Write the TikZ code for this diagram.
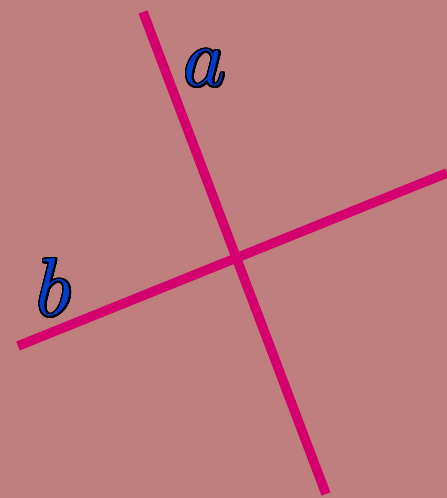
\documentclass[tikz,border=0pt]{standalone}
\usepackage{tikz}
\usepackage{contour}
\contourlength{0.5pt}
\contournumber{32}
\definecolor{bgpink}{RGB}{191,127,127}
\definecolor{linemag}{RGB}{212,0,110}
\definecolor{labblue}{RGB}{0,60,205}

\begin{document}
\begin{tikzpicture}[
  x=1pt,y=1pt,
  lineseg/.style={draw=linemag,line width=9.5pt},
  lab/.style={inner sep=0pt,font=\Huge,scale=3.3,transform shape}
]
\fill[bgpink] (0,0) rectangle (447,498);
\useasboundingbox (0,0) rectangle (447,498);
\coordinate (atop) at (143,486);
\coordinate (abot) at (326,4);
\coordinate (bleft) at (18,152);
\coordinate (bright) at (447,325);
\draw[lineseg] (atop) -- (abot);
\draw[lineseg] (bleft) -- (bright);
\node[lab] (la) at (205,429) {\contour{black}{\textcolor{labblue}{$a$}}};
\node[lab] (lb) at (54,210) {\contour{black}{\textcolor{labblue}{$b$}}};
\end{tikzpicture}
\end{document}
